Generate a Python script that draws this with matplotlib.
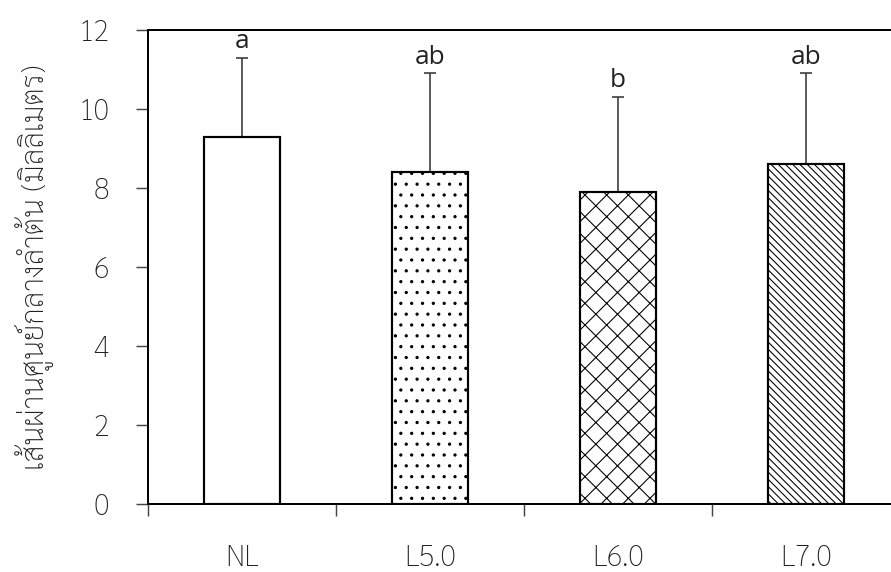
import matplotlib
matplotlib.use("Agg")
import numpy as np
import matplotlib.pyplot as plt

# ข้อมูล
categories = ["NL", "L5.0", "L6.0", "L7.0"]
means = [9.3, 8.4, 7.9, 8.6]
errors = [2.0, 2.5, 2.4, 2.3]
letters = ["a", "ab", "b", "ab"]
hatches = ["", "..", "xx", "\\" * 6]

ylabel = "เส้นผ่านศูนย์กลางลำต้น (มิลลิเมตร)"

thai_font = ["Sarabun", "DejaVu Sans"]
latin_font = ["Open Sans", "DejaVu Sans"]

plt.rcParams["hatch.linewidth"] = 0.6
plt.rcParams["hatch.color"] = "#3a3a3a"

DPI = 130
fig = plt.figure(figsize=(891 / DPI, 572 / DPI), dpi=DPI)
ax = fig.add_axes([148 / 891, 1 - 504 / 572, 1 - 148 / 891, (504 - 30) / 572])

x = np.arange(len(categories))
bars = ax.bar(x, means, width=0.4, color="white", edgecolor="black", linewidth=1.2, zorder=2)
for b, h in zip(bars, hatches):
    b.set_hatch(h)

ax.errorbar(x, means, yerr=[np.zeros(len(errors)), errors], fmt="none",
            ecolor="#3a3a3a", elinewidth=0.9, capsize=3.2, capthick=0.9, zorder=1)

for xi, m, e, t in zip(x, means, errors, letters):
    ax.text(xi, m + e + 0.1, t, ha="center", va="bottom", fontsize=14.5,
            family=latin_font, color="#222222")

ax.set_xlim(-0.5, -0.5 + (891 - 148) / 188)
ax.set_ylim(0, 12)
ax.set_yticks(np.arange(0, 13, 2))

# เส้นแบ่งกลุ่มที่แกน x และชื่อกลุ่มไว้ตรงกลาง
ax.set_xticks(np.arange(len(categories)) - 0.5)
ax.set_xticklabels([])
ax.set_xticks(x, minor=True)
ax.set_xticklabels(categories, minor=True)
ax.tick_params(axis="x", which="minor", length=0, pad=22)
ax.tick_params(axis="both", which="major", direction="out", length=6.6, width=0.8, color="#444444")
ax.tick_params(axis="y", pad=15)

for lab in ax.get_xticklabels(minor=True) + ax.get_yticklabels():
    lab.set_family(thai_font)
    lab.set_fontweight("light")
    lab.set_fontsize(16)
    lab.set_color("#222222")

for s in ["left", "bottom", "top"]:
    ax.spines[s].set_linewidth(1.1)
ax.spines["right"].set_visible(False)

ax.set_ylabel(ylabel, family=thai_font, fontweight="light", fontsize=16.5,
              labelpad=13, color="#222222")

fig.savefig("out.png", dpi=DPI)
